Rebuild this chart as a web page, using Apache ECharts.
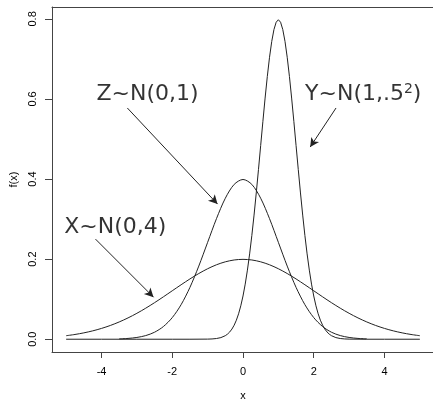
<!DOCTYPE html>
<html>
<head>
<meta charset="utf-8">
<script src="https://cdn.jsdelivr.net/npm/echarts@6/dist/echarts.min.js"></script>
<style>html,body{margin:0;padding:0;background:#fff}#c{width:433px;height:400px}</style>
</head>
<body>
<div id="c"></div>
<script>
// X ~ N(0,4): x from -5 to 5, step 0.25
var xX = [-5,-4.75,-4.5,-4.25,-4,-3.75,-3.5,-3.25,-3,-2.75,-2.5,-2.25,-2,-1.75,-1.5,-1.25,-1,-0.75,-0.5,-0.25,0,
          0.25,0.5,0.75,1,1.25,1.5,1.75,2,2.25,2.5,2.75,3,3.25,3.5,3.75,4,4.25,4.5,4.75,5];
var yX = [0.00876,0.01189,0.01587,0.02086,0.02700,0.03439,0.04314,0.05327,0.06476,0.07751,0.09132,0.10594,0.12099,0.13603,0.15057,0.16408,0.17603,0.18593,0.19333,0.19792,0.19947,
          0.19792,0.19333,0.18593,0.17603,0.16408,0.15057,0.13603,0.12099,0.10594,0.09132,0.07751,0.06476,0.05327,0.04314,0.03439,0.02700,0.02086,0.01587,0.01189,0.00876];
// Z ~ N(0,1): x from -3.5 to 3.5, step 0.25
var xZ = [-3.5,-3.25,-3,-2.75,-2.5,-2.25,-2,-1.75,-1.5,-1.25,-1,-0.75,-0.5,-0.25,0,
          0.25,0.5,0.75,1,1.25,1.5,1.75,2,2.25,2.5,2.75,3,3.25,3.5];
var yZ = [0.00087,0.00203,0.00443,0.00909,0.01753,0.03174,0.05399,0.08628,0.12952,0.18265,0.24197,0.30114,0.35207,0.38667,0.39894,
          0.38667,0.35207,0.30114,0.24197,0.18265,0.12952,0.08628,0.05399,0.03174,0.01753,0.00909,0.00443,0.00203,0.00087];
// Y ~ N(1, .5^2)
var xY = [-5,-4,-3,-2,-1.5,-1,-0.875,-0.75,-0.625,-0.5,-0.4375,-0.375,-0.3125,-0.25,-0.1875,-0.125,-0.0625,0,
          0.0625,0.125,0.1875,0.25,0.3125,0.375,0.4375,0.5,0.5625,0.625,0.6875,0.75,0.8125,0.875,0.9375,1,
          1.0625,1.125,1.1875,1.25,1.3125,1.375,1.4375,1.5,1.5625,1.625,1.6875,1.75,1.8125,1.875,1.9375,2,
          2.0625,2.125,2.1875,2.25,2.3125,2.375,2.4375,2.5,2.625,2.75,2.875,3,3.5,4,5];
var yY = [0,0,0,0,0.00000,0.00027,0.00071,0.00175,0.00406,0.00886,0.01279,0.01818,0.02545,0.03506,0.04754,0.06348,0.08344,0.10798,
          0.13758,0.17256,0.21308,0.25904,0.31004,0.36530,0.42374,0.48394,0.54410,0.60227,0.65632,0.70413,0.74372,0.77334,0.79168,0.79788,
          0.79168,0.77334,0.74372,0.70413,0.65632,0.60227,0.54410,0.48394,0.42374,0.36530,0.31004,0.25904,0.21308,0.17256,0.13758,0.10798,
          0.08344,0.06348,0.04754,0.03506,0.02545,0.01818,0.01279,0.00886,0.00406,0.00175,0.00071,0.00027,0.00000,0,0];
// tick labels
var xTicks = [-4,-2,0,2,4];
var yTicks = [0,0.2,0.4,0.6,0.8];
// annotations (data coordinates)
var labelTexts = ['X~N(0,4)','Z~N(0,1)','Y~N(1,.5²)'];
var labelX = [-3.61,-2.70,3.40];
var labelY = [0.280,0.612,0.612];
var arrowFromX = [-4.17,-3.27,2.63];
var arrowFromY = [0.250,0.5775,0.5775];
var arrowToX = [-2.53,-0.72,1.90];
var arrowToY = [0.105,0.3375,0.480];

function pairs(xs, ys){ return xs.map(function(v,i){ return [v, ys[i]]; }); }

var ink = '#222';
var axisCol = '#444';
var chart = echarts.init(document.getElementById('c'), null, {renderer:'canvas'});
var curveStyle = {color: ink, width: 1};
var option = {
  animation: false,
  backgroundColor: '#fff',
  textStyle: {fontFamily: 'Liberation Sans, Arial, sans-serif'},
  grid: {left: 52, top: 7, width: 382, height: 345, containLabel: false, outerBoundsMode: 'none'},
  xAxis: [{
    type: 'value', min: -5.4, max: 5.4, position: 'bottom',
    name: 'x', nameLocation: 'middle', nameGap: 38,
    nameTextStyle: {fontSize: 11, color: '#000'},
    axisLine: {show: true, onZero: false, lineStyle: {color: axisCol, width: 1}},
    axisTick: {show: true, inside: false, length: 6, customValues: xTicks, lineStyle: {color: axisCol}},
    axisLabel: {show: true, customValues: xTicks, margin: 14, fontSize: 11, color: '#000',
      formatter: function(v){ return String(v); }},
    splitLine: {show: false}
  },{
    type: 'value', min: -5.4, max: 5.4, position: 'top',
    axisLine: {show: true, onZero: false, lineStyle: {color: axisCol, width: 1}},
    axisTick: {show: false}, axisLabel: {show: false}, splitLine: {show: false}
  }],
  yAxis: {
    type: 'value', min: -0.0319, max: 0.8297,
    name: 'f(x)', nameLocation: 'middle', nameGap: 32, nameRotate: 90,
    nameTextStyle: {fontSize: 11, color: '#000'},
    axisLine: {show: true, onZero: false, lineStyle: {color: axisCol, width: 1}},
    axisTick: {show: true, inside: false, length: 7, customValues: yTicks, lineStyle: {color: axisCol}},
    axisLabel: {show: true, customValues: yTicks, rotate: 90, margin: 14, fontSize: 11, color: '#000',
      formatter: function(v){ return v.toFixed(1); }},
    splitLine: {show: false}
  },
  series: [
    {type: 'line', data: pairs(xX, yX), showSymbol: false, smooth: 0.3, lineStyle: curveStyle, itemStyle: {color: ink}},
    {type: 'line', data: pairs(xZ, yZ), showSymbol: false, smooth: 0.3, lineStyle: curveStyle, itemStyle: {color: ink}},
    {type: 'line', data: pairs(xY, yY), showSymbol: false, smooth: false, lineStyle: curveStyle, itemStyle: {color: ink},
      markLine: {
        silent: true, symbol: ['none','arrow'], symbolSize: [7, 9],
        lineStyle: {color: ink, width: 1, type: 'solid'},
        label: {show: false},
        data: arrowFromX.map(function(v,i){
          return [{coord: [v, arrowFromY[i]]}, {coord: [arrowToX[i], arrowToY[i]]}];
        })
      }
    },
    {type: 'scatter', data: labelX.map(function(v,i){ return {value:[v, labelY[i]], name: labelTexts[i]}; }),
      symbolSize: 0, silent: true,
      label: {show: true, position: 'inside', color: '#000', fontFamily: 'DejaVu Sans', fontSize: 22,
        formatter: function(p){
          var t = p.name;
          if (t.indexOf('²') >= 0) { return '{n|' + t.replace('²)', '') + '}{s|2}{n|)}'; }
          return '{n|' + t + '}';
        },
        rich: {
          n: {fontFamily: 'DejaVu Sans', fontSize: 22, color: '#000', lineHeight: 26},
          s: {fontFamily: 'DejaVu Sans', fontSize: 14, color: '#000', lineHeight: 26, padding: [0,0,10,0]}
        }
      }
    }
  ]
};
chart.setOption(option);
</script>
</body>
</html>
